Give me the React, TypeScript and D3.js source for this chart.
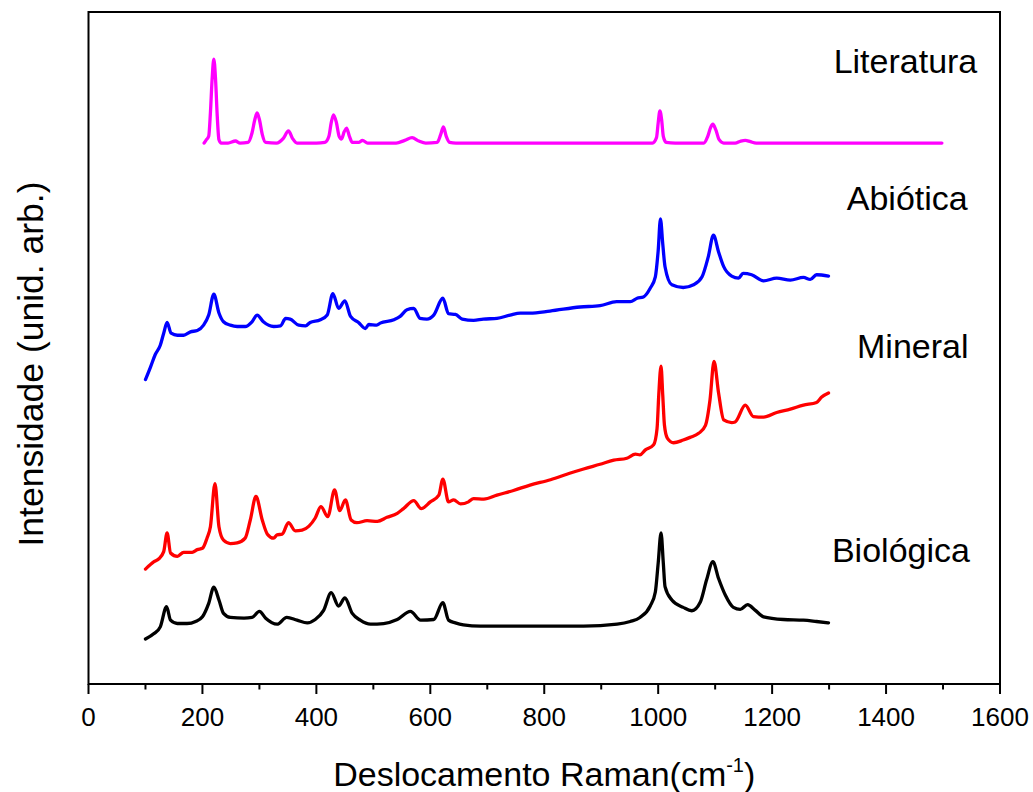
import React from "react";
import * as d3 from "d3";

// Raman spectra, [wavenumber (cm-1), intensity (arb. units, stacked offset included)]
const literatura: [number, number][] = [
  [203, 80.5], [207, 81.0], [211, 81.5], [214, 85], [217, 90], [220, 93.0], [223, 90], [226, 84.5],
  [229, 81], [233, 80.5], [245, 80.5], [258, 80.8], [266, 80.5], [280, 80.6], [287, 82], [292, 84],
  [296, 85.0], [300, 84], [305, 81.8], [311, 80.6], [330, 80.5], [342, 81.2], [351, 82.3], [358, 81.2],
  [366, 80.5], [400, 80.5], [415, 80.6], [422, 81.5], [426, 83.5], [430, 84.7], [435, 83.6], [440, 81.5],
  [444, 81.1], [449, 82.2], [453, 82.7], [458, 81.5], [463, 80.6], [475, 80.6], [481, 80.9], [490, 80.5],
  [540, 80.5], [555, 80.9], [568, 81.3], [580, 80.8], [592, 80.5], [612, 80.6], [618, 81.7], [623, 82.9],
  [628, 81.5], [634, 80.6], [645, 80.5], [990, 80.5], [997, 81.3], [1000, 83.5], [1003, 85.3], [1006, 84],
  [1009, 81.5], [1014, 80.6], [1030, 80.5], [1080, 80.5], [1087, 81.5], [1092, 82.8], [1096, 83.3],
  [1101, 82.5], [1107, 81], [1115, 80.5], [1135, 80.5], [1145, 80.8], [1153, 80.9], [1162, 80.7],
  [1172, 80.5], [1300, 80.5], [1400, 80.5], [1498, 80.5],
];

const abiotica: [number, number][] = [
  [100, 45.3], [109, 47.2], [117, 49.0], [126, 50.4], [132, 52.2], [138, 53.8], [145, 52.2], [156, 51.9],
  [167, 51.9], [179, 52.4], [191, 52.6], [202, 53.4], [211, 54.9], [220, 58.0], [229, 55.2], [237, 53.9],
  [249, 53.4], [261, 53.2], [275, 53.2], [287, 53.9], [296, 54.9], [307, 53.9], [325, 53.2], [337, 53.3],
  [346, 54.4], [354, 54.3], [369, 53.4], [381, 53.3], [389, 53.8], [407, 54.2], [419, 54.9], [429, 58.1],
  [439, 55.9], [450, 57.0], [460, 54.7], [474, 53.8], [486, 52.9], [492, 53.5], [506, 53.4], [512, 53.7],
  [536, 54.2], [547, 54.7], [559, 55.7], [571, 55.9], [582, 54.4], [594, 54.3], [606, 54.9], [622, 57.4],
  [632, 55.1], [644, 55.0], [656, 54.3], [676, 54.1], [693, 54.3], [717, 54.4], [740, 54.9], [758, 55.2],
  [775, 55.2], [810, 55.5], [863, 56.1], [898, 56.3], [927, 56.9], [951, 56.9], [963, 57.4], [974, 57.6],
  [986, 58.9], [995, 60.6], [1000, 64.5], [1004, 69.2], [1008, 65.5], [1012, 62.1], [1024, 59.4],
  [1044, 59.0], [1062, 59.4], [1077, 60.6], [1088, 63.6], [1097, 66.8], [1106, 64.3], [1115, 62.1],
  [1129, 60.7], [1141, 60.4], [1149, 61.1], [1164, 60.9], [1185, 60.0], [1208, 60.4], [1232, 60.1],
  [1255, 60.5], [1267, 60.2], [1278, 60.9], [1299, 60.7],
];

const mineral: [number, number][] = [
  [100, 17.1], [115, 18.2], [123, 18.6], [132, 19.7], [138, 22.5], [144, 19.5], [156, 19.0], [167, 19.6],
  [182, 19.6], [191, 20.0], [200, 20.2], [208, 21.7], [214, 23.4], [222, 29.8], [229, 23.4], [237, 21.4],
  [249, 20.9], [261, 21.0], [275, 21.7], [284, 24.4], [294, 27.9], [305, 24.4], [314, 22.3], [325, 21.7],
  [331, 22.2], [340, 22.3], [351, 24.0], [363, 22.8], [375, 22.9], [387, 23.5], [398, 24.7], [408, 26.4],
  [420, 24.9], [432, 28.9], [441, 25.8], [451, 27.4], [461, 24.4], [471, 24.0], [489, 24.3], [507, 24.2],
  [524, 24.8], [542, 25.4], [553, 26.1], [571, 27.3], [584, 26.1], [600, 27.1], [615, 28.1], [622, 30.5],
  [632, 27.1], [641, 27.4], [653, 26.8], [667, 27.1], [676, 27.6], [694, 27.5], [717, 28.1], [746, 28.8],
  [775, 29.6], [811, 30.4], [846, 31.4], [869, 32.0], [898, 32.7], [922, 33.3], [945, 33.6], [960, 34.2],
  [968, 34.1], [977, 34.8], [992, 35.6], [998, 38.0], [1001, 43.0], [1005, 47.3], [1008, 43.0],
  [1011, 38.5], [1016, 36.6], [1027, 35.9], [1044, 36.3], [1056, 36.7], [1071, 37.3], [1083, 38.5],
  [1091, 42.3], [1098, 48.0], [1106, 43.3], [1115, 39.3], [1129, 38.9], [1135, 39.0], [1153, 41.5],
  [1167, 39.8], [1185, 39.7], [1208, 40.4], [1232, 40.9], [1255, 41.5], [1278, 41.9], [1287, 42.7],
  [1299, 43.3],
];

const biologica: [number, number][] = [
  [100, 6.7], [115, 7.5], [126, 8.5], [137, 11.5], [144, 9.5], [156, 9.0], [173, 9.0], [188, 9.3],
  [200, 10.0], [211, 12.0], [220, 14.4], [229, 12.5], [237, 10.5], [249, 9.9], [273, 9.8], [287, 9.9],
  [300, 10.8], [311, 9.8], [331, 8.9], [348, 9.9], [366, 9.5], [384, 9.1], [398, 9.6], [413, 11.0],
  [426, 13.6], [439, 11.6], [450, 12.8], [463, 10.5], [477, 9.5], [495, 8.9], [518, 9.0], [542, 9.6],
  [565, 10.8], [583, 9.5], [606, 9.6], [622, 12.1], [632, 9.5], [644, 9.1], [658, 8.8], [688, 8.6],
  [775, 8.6], [811, 8.6], [869, 8.6], [928, 8.9], [951, 9.3], [968, 9.9], [986, 11.6], [995, 13.7],
  [1000, 18.0], [1005, 22.5], [1009, 18.0], [1012, 14.5], [1024, 12.5], [1044, 11.4], [1059, 10.9],
  [1074, 12.2], [1085, 15.5], [1096, 18.2], [1106, 15.7], [1118, 13.2], [1132, 11.4], [1144, 11.1],
  [1157, 11.8], [1170, 11.0], [1185, 10.0], [1220, 9.6], [1255, 9.5], [1278, 9.3], [1299, 9.1],
];

const seriesList = [
  { name: "Literatura", data: literatura, color: "#ff00ff", labelX: 1308, labelY: 90.9 },
  { name: "Abiótica", data: abiotica, color: "#0000ff", labelX: 1331, labelY: 70.5 },
  { name: "Mineral", data: mineral, color: "#ff0000", labelX: 1349, labelY: 48.5 },
  { name: "Biológica", data: biologica, color: "#000000", labelX: 1305, labelY: 18.2 },
];

const majorTicks = [0, 200, 400, 600, 800, 1000, 1200, 1400, 1600];
const minorTicks = [100, 300, 500, 700, 900, 1100, 1300, 1500];

const W = 1033;
const H = 792;
const margin = { left: 88.5, right: 33, top: 12, bottom: 108 };

export default function App() {
  const x = d3.scaleLinear().domain([0, 1600]).range([margin.left, W - margin.right]);
  const y = d3.scaleLinear().domain([0, 100]).range([H - margin.bottom, margin.top]);
  const line = d3
    .line<[number, number]>()
    .x((d) => x(d[0]))
    .y((d) => y(d[1]))
    .curve(d3.curveMonotoneX);

  const font = "Arial, 'Liberation Sans', Helvetica, sans-serif";
  const x0 = x(0);
  const x1 = x(1600);
  const yb = y(0);
  const yt = y(100);

  return (
    <svg
      width={W}
      height={H}
      style={{ position: "absolute", left: 0, top: 0, background: "#fff" }}
      fontFamily={font}
    >
      <rect x={0} y={0} width={W} height={H} fill="#fff" />
      {seriesList.map((s) => (
        <path
          key={s.name}
          d={line(s.data) ?? ""}
          fill="none"
          stroke={s.color}
          strokeWidth={3.3}
          strokeLinejoin="round"
          strokeLinecap="round"
        />
      ))}
      {/* frame */}
      <rect x={x0} y={yt} width={x1 - x0} height={yb - yt} fill="none" stroke="#000" strokeWidth={2} />
      {majorTicks.map((t) => (
        <g key={"M" + t}>
          <line x1={x(t)} x2={x(t)} y1={yb} y2={yb + 10} stroke="#000" strokeWidth={2} />
          <text x={x(t)} y={726} textAnchor="middle" fontSize={26} fill="#000">
            {t}
          </text>
        </g>
      ))}
      {minorTicks.map((t) => (
        <line key={"m" + t} x1={x(t)} x2={x(t)} y1={yb} y2={yb + 5.5} stroke="#000" strokeWidth={2} />
      ))}
      {seriesList.map((s) => (
        <text key={"l" + s.name} x={x(s.labelX)} y={y(s.labelY)} fontSize={34} fill="#000">
          {s.name}
        </text>
      ))}
      <text x={(x0 + x1) / 2} y={786} textAnchor="middle" fontSize={34} fill="#000">
        Deslocamento Raman(cm
        <tspan fontSize={20} dy={-14}>-1</tspan>
        <tspan dy={14}>)</tspan>
      </text>
      <text
        transform={`translate(43, 364) rotate(-90)`}
        textAnchor="middle"
        fontSize={35.5}
        fill="#000"
      >
        Intensidade (unid. arb.)
      </text>
    </svg>
  );
}
